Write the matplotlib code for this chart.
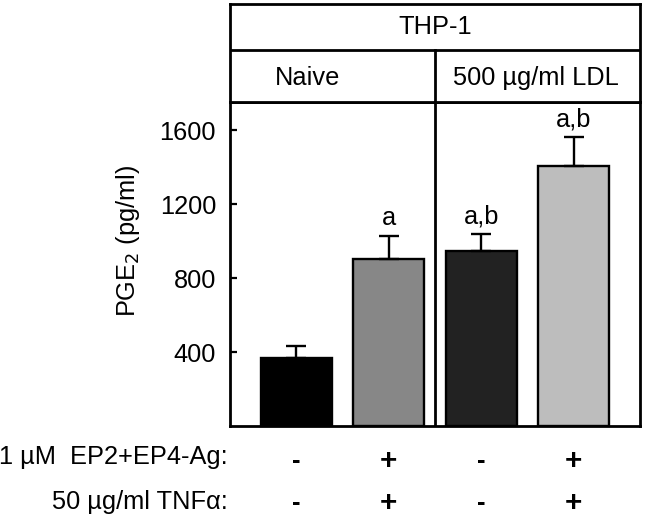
import matplotlib
matplotlib.use("Agg")
import matplotlib.pyplot as plt
import numpy as np

plt.rcParams['font.family'] = ['Liberation Sans', 'DejaVu Sans']

# data
values = [371, 906, 946, 1405]
errors = [65, 123, 93, 157]
colors = ['#000000', '#878787', '#222222', '#bdbdbd']
sig_labels = ['', 'a', 'a,b', 'a,b']
ep_row = ['-', '+', '-', '+']
tnf_row = ['-', '+', '-', '+']
row_labels = ['1 µM  EP2+EP4-Ag:', '50 µg/ml TNFα:']
group_labels = ['Naive', '500 µg/ml LDL']
title = 'THP-1'
yticks = [400, 800, 1200, 1600]

W, H = 645, 521
fig = plt.figure(figsize=(W / 100, H / 100), dpi=100)

def fx(px):
    return px / W

def fy(py):
    return 1 - py / H

ax_l, ax_r, ax_t, ax_b = 230, 640, 101.7, 426.3
ax = fig.add_axes([fx(ax_l), fy(ax_b), fx(ax_r) - fx(ax_l), fy(ax_t) - fy(ax_b)])
x = np.arange(len(values))
fs = 18.3
lw = 2.0
ax.bar(x, values, width=0.77, color=colors, edgecolor='black', linewidth=1.7, zorder=2)
ax.errorbar(x, values, yerr=[np.zeros(len(errors)), errors], fmt='none',
            ecolor='black', elinewidth=1.7, capsize=7.5, capthick=1.7, zorder=3)
for xi, v, e, s in zip(x, values, errors, sig_labels):
    if s:
        ax.text(xi, v + e + 30, s, ha='center', va='bottom', fontsize=fs)
ax.axvline(1.5, color='black', lw=lw)
ax.set_xlim(-0.72, 3.72)
ax.set_ylim(0, 1753)
ax.set_yticks(yticks)
ax.set_yticklabels([str(t) for t in yticks])
ax.set_xticks([])
ax.tick_params(axis='y', direction='in', length=5, width=1.6, labelsize=fs, pad=10)
for sp in ax.spines.values():
    sp.set_linewidth(lw)

# header
hax = fig.add_axes([fx(ax_l), fy(ax_t), fx(ax_r) - fx(ax_l), fy(4) - fy(ax_t)])
hax.set_xlim(-0.72, 3.72)
hax.set_ylim(0, 2)
hax.set_xticks([])
hax.set_yticks([])
for sp in hax.spines.values():
    sp.set_linewidth(lw)
hax.axhline(1.05, color='black', lw=lw)
hax.plot([1.5, 1.5], [0, 1.05], color='black', lw=lw)
hax.text(1.5, 1.53, title, ha='center', va='center', fontsize=fs)
hax.text(0.12, 0.48, group_labels[0], ha='center', va='center', fontsize=fs)
hax.text(2.59, 0.48, group_labels[1], ha='center', va='center', fontsize=fs)

# y label
fig.text(fx(128), fy(241), r'PGE$_2$ (pg/ml)', rotation=90, ha='center', va='center', fontsize=fs)

# bottom rows
trans = matplotlib.transforms.blended_transform_factory(ax.transData, fig.transFigure)
for row, yy in zip([ep_row, tnf_row], [461, 503]):
    for xi, s in zip(x, row):
        ax.text(xi, fy(yy), s, transform=trans, ha='center', va='center',
                fontsize=fs + 3 if s == '+' else fs, fontweight='bold')
for lab, yy in zip(row_labels, [457, 502]):
    fig.text(fx(228), fy(yy), lab, ha='right', va='center', fontsize=fs)

fig.savefig('out.png', dpi=100)
